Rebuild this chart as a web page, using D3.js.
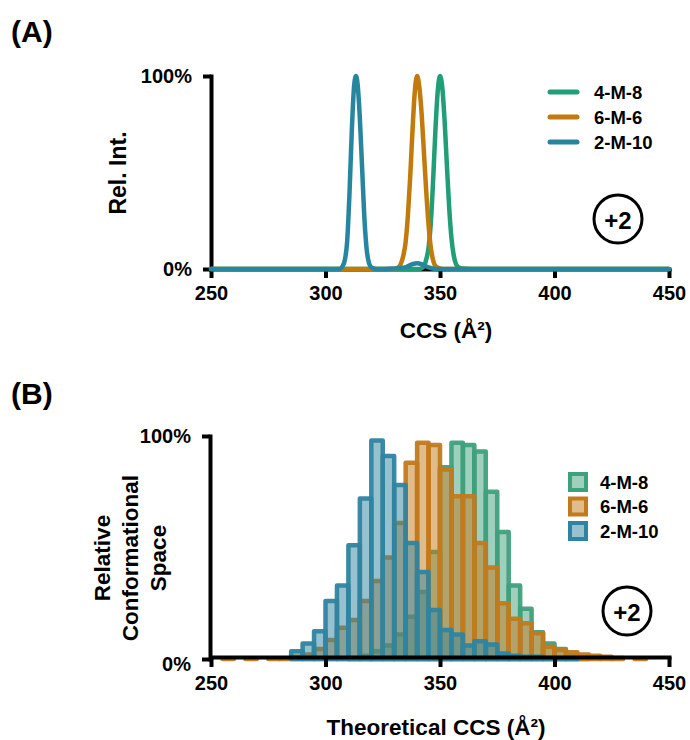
<!DOCTYPE html>
<html>
<head>
<meta charset="utf-8">
<style>
  body { margin: 0; background: #fff; }
  svg text { font-family: "Liberation Sans", Arial, sans-serif; font-weight: bold; fill: #000; }
  .axis path, .axis line { stroke: #000; stroke-width: 4; }
</style>
</head>
<body>
<svg id="chart" width="690" height="740"></svg>
<script src="https://cdn.jsdelivr.net/npm/d3@7"></script>
<script>
// ---- data ----
var seriesNames = ["4-M-8", "6-M-6", "2-M-10"];
var xTicks = [250, 300, 350, 400, 450];

// (A) arrival distributions, [CCS, rel. int. %]
var trace4M8 = [[250,0],[341,0],[343,1.5],[344,5],[345,11],[346,24],[347,46],[348,72],[349,92],[350,100],[351,94],[352,77],[353,54],[354,32],[355,16],[356,7],[357,2.5],[358,1],[360,0.3],[366,0],[450,0]];
var trace6M6 = [[250,0],[330,0],[332,1],[333,3],[334,7],[335,14],[336,28],[337,48],[338,72],[339,92],[340,100],[341,94],[342,80],[343,60],[344,40],[345,23],[346,11],[347,4.5],[348,1.5],[350,0.3],[353,0],[450,0]];
var trace2M10 = [[250,0],[306,0],[307.5,1.5],[308.5,5],[309.5,15],[310.5,40],[311.5,72],[312.5,95],[313.3,100],[314,96],[315,78],[316,52],[317,26],[318,10],[319,3],[320,0.8],[322,0],[330,0.3],[335,1],[338,2.5],[340,3],[342,2.5],[345,0.8],[348,0],[450,0]];

// (B) theoretical CCS histograms, 5 A^2 bins (left edges)
var binStart = [255,260,265,270,275,280,285,290,295,300,305,310,315,320,325,330,335,340,345,350,355,360,365,370,375,380,385,390,395,400,405,410,415,420,425,430,435];
var hist4M8  = [0,0,0,0,0,0,0,0,0,0,0,0.5,1.5,3.5,6,11,19,30,48,86,97,96,93,75,57,33,22.5,12,7,4.5,1.5,0.5,0,0,0,0,0];
var hist6M6  = [0.3,0,0.3,0,0.3,0.3,1,2,4.5,8.5,14,17.5,26,35,45.5,61,88,97,96,85,73,73,52,41,25,18,16,11.5,5.5,4,3,2,1.5,1,0.5,0,0.3];
var hist2M10 = [0,0,0,0,0,0,3.5,7,12.5,26,33,51,72,98,91,78,52,39,22,13,11,6,8,6.5,2.5,1.5,1,1,0.5,0.5,0.3,0,0,0,0,0,0];

var lineColors = ["#1f9e77", "#c17a0b", "#26869f"];
var barColors  = ["#3fa07c", "#c27a1c", "#2f84a0"];

var svg = d3.select("#chart");

// ---- panel A ----
var xA = d3.scaleLinear().domain([250, 450]).range([211, 669]);
var yA = d3.scaleLinear().domain([0, 100]).range([269, 76]);

svg.append("text").attr("x", 11).attr("y", 42).style("font-size", "30px").text("(A)");

var axA = svg.append("g").attr("class", "axis").attr("transform", "translate(0,269)")
  .call(d3.axisBottom(xA).tickValues(xTicks).tickSize(9).tickSizeOuter(0).tickPadding(8));
var ayA = svg.append("g").attr("class", "axis").attr("transform", "translate(211,0)")
  .call(d3.axisLeft(yA).tickValues([0, 100]).tickSize(8).tickSizeOuter(0).tickPadding(11).tickFormat(function(d){ return d + "%"; }));
[axA, ayA].forEach(function(a){
  a.select(".domain").attr("stroke-linecap", "square");
  a.selectAll("text").style("font-size", "20px").style("font-family", "Liberation Sans, Arial, sans-serif");
});

var lineA = d3.line().x(function(d){ return xA(d[0]); }).y(function(d){ return yA(d[1]); }).curve(d3.curveMonotoneX);
[trace4M8, trace6M6, trace2M10].forEach(function(tr, i){
  svg.append("path").datum(tr).attr("d", lineA)
    .attr("fill", "none").attr("stroke", lineColors[i]).attr("stroke-width", 4.5)
    .attr("stroke-linejoin", "round").attr("stroke-linecap", "round");
});

svg.append("text").attr("transform", "translate(118,173) rotate(-90)")
  .attr("text-anchor", "middle").attr("dominant-baseline", "central")
  .style("font-size", "23px").text("Rel. Int.");
svg.append("text").attr("x", 446).attr("y", 338).attr("text-anchor", "middle")
  .style("font-size", "22.5px").text("CCS (Å²)");

var legA = svg.append("g");
seriesNames.forEach(function(n, i){
  var yy = 92 + i * 25;
  legA.append("line").attr("x1", 550).attr("x2", 577).attr("y1", yy).attr("y2", yy)
    .attr("stroke", lineColors[i]).attr("stroke-width", 5).attr("stroke-linecap", "round");
  legA.append("text").attr("x", 594).attr("y", yy).attr("dominant-baseline", "central")
    .style("font-size", "18.5px").text(n);
});

function chargeBadge(cx, cy) {
  svg.append("circle").attr("cx", cx).attr("cy", cy).attr("r", 24)
    .attr("fill", "none").attr("stroke", "#000").attr("stroke-width", 3);
  svg.append("text").attr("x", cx).attr("y", cy + 1).attr("text-anchor", "middle")
    .attr("dominant-baseline", "central").style("font-size", "24px").text("+2");
}
chargeBadge(618, 219);

// ---- panel B ----
var xB = d3.scaleLinear().domain([250, 450]).range([211, 669]);
var yB = d3.scaleLinear().domain([0, 100]).range([659, 436]);

svg.append("text").attr("x", 11).attr("y", 404).style("font-size", "30px").text("(B)");

function drawHist(vals, color) {
  var data = binStart.map(function(b, i){ return {b: b, v: vals[i]}; }).filter(function(d){ return d.v > 0; });
  svg.append("g").selectAll("rect").data(data).join("rect")
    .attr("x", function(d){ return xB(d.b); })
    .attr("width", function(d){ return xB(d.b + 5) - xB(d.b); })
    .attr("y", function(d){ return yB(d.v); })
    .attr("height", function(d){ return yB(0) - yB(d.v); })
    .attr("fill", color).attr("fill-opacity", 0.5)
    .attr("stroke", color).attr("stroke-opacity", 0.95)
    .attr("stroke-width", 4.5).attr("stroke-linejoin", "round");
}
[hist4M8, hist6M6, hist2M10].forEach(function(h, i){ drawHist(h, barColors[i]); });

var axB = svg.append("g").attr("class", "axis").attr("transform", "translate(0,657)")
  .call(d3.axisBottom(xB).tickValues(xTicks).tickSize(10).tickSizeOuter(0).tickPadding(9));
var ayB = svg.append("g").attr("class", "axis").attr("transform", "translate(210,0)")
  .call(d3.axisLeft(yB).tickValues([0, 100]).tickSize(8).tickSizeOuter(0).tickPadding(11).tickFormat(function(d){ return d + "%"; }));
[axB, ayB].forEach(function(a){
  a.select(".domain").attr("stroke-linecap", "square");
  a.selectAll("text").style("font-size", "20px").style("font-family", "Liberation Sans, Arial, sans-serif");
});
ayB.selectAll(".tick text").attr("dy", function(d){ return d === 0 ? "0.55em" : "0.32em"; });

var yTitleB = svg.append("text").attr("transform", "translate(0,558) rotate(-90)")
  .attr("text-anchor", "middle").style("font-size", "22.5px");
["Relative", "Conformational", "Space"].forEach(function(s, i){
  yTitleB.append("tspan").attr("x", 0).attr("y", 110 + i * 28).text(s);
});
svg.append("text").attr("x", 436).attr("y", 735).attr("text-anchor", "middle")
  .style("font-size", "22.5px").text("Theoretical CCS (Å²)");

var legB = svg.append("g");
seriesNames.forEach(function(n, i){
  var yy = 482 + i * 24.5;
  legB.append("rect").attr("x", 570).attr("y", yy - 8).attr("width", 16).attr("height", 16)
    .attr("fill", barColors[i]).attr("fill-opacity", 0.5)
    .attr("stroke", barColors[i]).attr("stroke-width", 4);
  legB.append("text").attr("x", 600).attr("y", yy).attr("dominant-baseline", "central")
    .style("font-size", "18.5px").text(n);
});
chargeBadge(627, 611);
</script>
</body>
</html>
